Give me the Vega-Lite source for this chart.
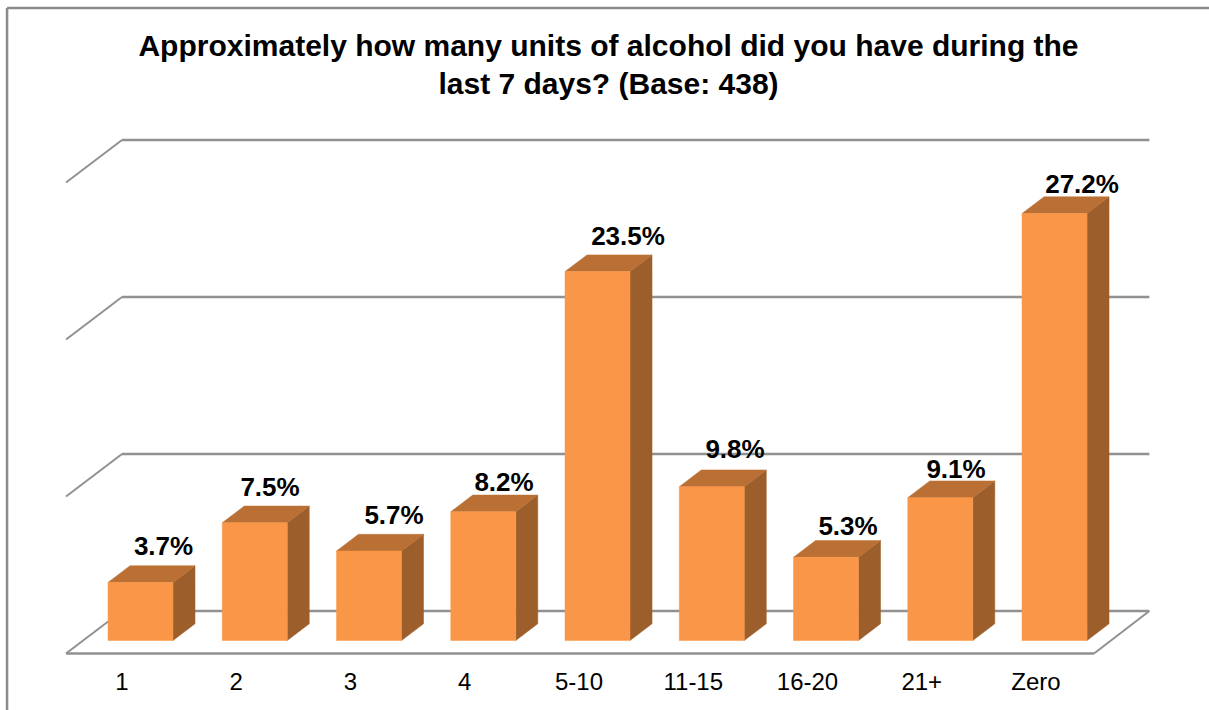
{
"$schema":"https://vega.github.io/schema/vega-lite/v6.json",
"width":1209,"height":710,"padding":0,"autosize":{"type":"none"},"background":"white",
"title":{"text":["Approximately how many units of alcohol did you have during the","last 7 days? (Base: 438)"],"anchor":"middle","baseline":"top","offset":-100,"dx":4,"lineHeight":38,"font":"Liberation Sans","fontSize":30,"fontWeight":"bold","color":"#000000"},
"config":{"view":{"stroke":null}},
"data":{"values":[
{"units":"1","value":3.7},{"units":"2","value":7.5},{"units":"3","value":5.7},{"units":"4","value":8.2},{"units":"5-10","value":23.5},{"units":"11-15","value":9.8},{"units":"16-20","value":5.3},{"units":"21+","value":9.1},{"units":"Zero","value":27.2}]},
"transform":[
{"calculate":"indexof(['1','2','3','4','5-10','11-15','16-20','21+','Zero'],datum.units)","as":"slot"},
{"calculate":"datum.slot-0.2845","as":"left"},
{"calculate":"datum.slot+0.2845","as":"right"}
],
"encoding":{
"x":{"field":"xa","type":"quantitative","axis":null,"title":null,"scale":{"domain":[-1.2298,9.352],"nice":false,"zero":false}},
"y":{"field":"ya","type":"quantitative","axis":null,"title":null,"stack":null,"scale":{"domain":[-4.427,40.8],"nice":false,"zero":false}}
},
"layer":[
{"data":{"values":[{"edge":"left"}]},
 "transform":[{"calculate":"-1.168","as":"xa"},{"calculate":"-4.427","as":"ya"},{"calculate":"40.29","as":"yb"}],
 "mark":{"type":"rule","stroke":"#8c8c8c","strokeWidth":2.5,"opacity":1},
 "encoding":{"x2":{"field":"xa"},"y2":{"field":"yb"}}},
{"data":{"values":[{"edge":"top"}]},
 "transform":[{"calculate":"-1.168","as":"xa"},{"calculate":"9.352","as":"xb"},{"calculate":"40.29","as":"ya"}],
 "mark":{"type":"rule","stroke":"#8c8c8c","strokeWidth":2.5,"opacity":1},
 "encoding":{"x2":{"field":"xb"},"y2":{"field":"ya"}}},
{"data":{"values":[{"level":0},{"level":10},{"level":20},{"level":30}]},
 "transform":[{"calculate":"datum.level+1.88","as":"ya"},{"calculate":"-0.162","as":"xa"},{"calculate":"8.83","as":"xb"}],
 "mark":{"type":"rule","stroke":"#919191","strokeWidth":2.5,"opacity":1},
 "encoding":{"x2":{"field":"xb"},"y2":{"field":"ya"}}},
{"data":{"values":[{"level":0},{"level":10},{"level":20},{"level":30}]},
 "transform":[{"calculate":"datum.level+1.88","as":"ya"},{"calculate":"datum.level-0.83","as":"yb"},{"calculate":"-0.162","as":"xa"},{"calculate":"-0.652","as":"xb"}],
 "mark":{"type":"rule","stroke":"#919191","strokeWidth":2,"opacity":1},
 "encoding":{"x2":{"field":"xb"},"y2":{"field":"yb"}}},
{"data":{"values":[{"floor":"front"}]},
 "transform":[{"calculate":"-0.83","as":"ya"},{"calculate":"-0.652","as":"xa"},{"calculate":"8.346","as":"xb"}],
 "mark":{"type":"rule","stroke":"#919191","strokeWidth":2.5,"opacity":1},
 "encoding":{"x2":{"field":"xb"},"y2":{"field":"ya"}}},
{"data":{"values":[{"floor":"right"}]},
 "transform":[{"calculate":"-0.83","as":"ya"},{"calculate":"1.88","as":"yb"},{"calculate":"8.346","as":"xa"},{"calculate":"8.83","as":"xb"}],
 "mark":{"type":"rule","stroke":"#919191","strokeWidth":2,"opacity":1},
 "encoding":{"x2":{"field":"xb"},"y2":{"field":"yb"}}},
{"transform":[
 {"calculate":"[0,1]","as":"c"},{"flatten":["c"]},
 {"calculate":"datum.right+datum.c*0.1926","as":"xa"},
 {"calculate":"datum.value+datum.c*1.064","as":"ya"},
 {"calculate":"datum.c*1.064","as":"yb"}],
 "mark":{"type":"area","orient":"vertical","fill":"#9c5f2b","stroke":"#9c5f2b","strokeWidth":0.5,"interpolate":"linear","opacity":1},
 "encoding":{"y2":{"field":"yb"},"detail":{"field":"units"}}},
{"transform":[
 {"calculate":"[0,1,2,3]","as":"c"},{"flatten":["c"]},
 {"calculate":"[datum.left,datum.left+0.1926,datum.right,datum.right+0.1926][datum.c]","as":"xa"},
 {"calculate":"datum.c==0?datum.value:datum.value+1.064","as":"ya"},
 {"calculate":"datum.c==3?datum.value+1.064:datum.value","as":"yb"}],
 "mark":{"type":"area","orient":"vertical","fill":"#ba7034","stroke":"#ba7034","strokeWidth":0.5,"interpolate":"linear","opacity":1},
 "encoding":{"y2":{"field":"yb"},"detail":{"field":"units"}}},
{"transform":[{"calculate":"datum.left","as":"xa"},{"calculate":"datum.right","as":"xb"},{"calculate":"datum.value","as":"ya"},{"calculate":"0","as":"yb"}],
 "mark":{"type":"rect","fill":"#fa9647","stroke":"#fa9647","strokeWidth":0.5,"opacity":1},
 "encoding":{"x2":{"field":"xb"},"y2":{"field":"yb"}}},
{"transform":[{"calculate":"datum.slot-0.162","as":"xa"},{"calculate":"-2.68","as":"ya"}],
 "mark":{"type":"text","font":"Liberation Sans","fontSize":24,"color":"#000000","baseline":"middle","align":"center"},
 "encoding":{"text":{"field":"units"}}},
{"transform":[
 {"calculate":"datum.slot+[23,15.25,25,20.75,30.5,23.25,22,15.75,27.5][datum.slot]/114.25","as":"xa"},
 {"calculate":"datum.value+[35.5,35,35,29,35,37,30,28,28.5][datum.slot]/15.7","as":"ya"},
 {"calculate":"format(datum.value,'.1f')+'%'","as":"label"}],
 "mark":{"type":"text","font":"Liberation Sans","fontSize":26,"fontWeight":"bold","color":"#000000","baseline":"middle","align":"center"},
 "encoding":{"text":{"field":"label"}}}
]
}
